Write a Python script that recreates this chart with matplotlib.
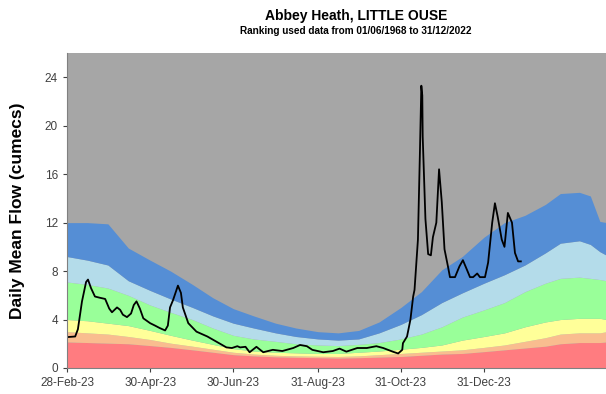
import numpy as np
import pandas as pd
import matplotlib
matplotlib.use("Agg")
import matplotlib.pyplot as plt
import matplotlib.dates as mdates

plt.rcParams['font.family'] = ['Liberation Sans', 'DejaVu Sans']

start = pd.Timestamp("2023-02-28")

# percentile bands: day offsets from start and upper limit of each band (cumecs)
band_days = [0, 15, 30, 45, 61, 76, 92, 107, 122, 137, 153, 168, 184, 199, 214,
             229, 245, 260, 275, 290, 306, 321, 336, 351, 362, 376, 384, 391, 396]
red_top = [2.15, 2.1, 2.05, 2.0, 1.85, 1.7, 1.5, 1.3, 1.1, 1.0, 0.92, 0.88, 0.85, 0.82, 0.85,
           0.9, 0.95, 1.05, 1.15, 1.2, 1.35, 1.5, 1.65, 1.8, 2.0, 2.1, 2.1, 2.1, 2.15]
orange_top = [3.0, 2.9, 2.8, 2.6, 2.35, 2.05, 1.8, 1.55, 1.3, 1.15, 1.05, 1.0, 0.97, 0.95, 1.0,
              1.1, 1.2, 1.3, 1.4, 1.5, 1.7, 1.9, 2.2, 2.5, 2.8, 2.9, 2.9, 2.9, 3.0]
yellow_top = [4.0, 3.9, 3.7, 3.5, 3.1, 2.7, 2.3, 1.95, 1.6, 1.4, 1.3, 1.25, 1.2, 1.2, 1.3,
              1.4, 1.55, 1.7, 1.9, 2.3, 2.6, 2.9, 3.4, 3.8, 4.0, 4.1, 4.1, 4.1, 4.0]
green_top = [7.1, 6.9, 6.6, 6.0, 5.2, 4.6, 4.0, 3.3, 2.7, 2.4, 2.2, 2.0, 1.9, 1.85, 1.95,
             2.1, 2.4, 2.8, 3.4, 4.2, 4.8, 5.4, 6.3, 7.0, 7.4, 7.5, 7.4, 7.3, 7.2]
lightblue_top = [9.2, 8.9, 8.5, 7.2, 6.4, 5.7, 5.0, 4.3, 3.7, 3.3, 2.9, 2.6, 2.4, 2.3, 2.4,
                 2.9, 3.6, 4.4, 5.4, 6.2, 7.0, 7.7, 8.5, 9.5, 10.3, 10.5, 10.2, 9.6, 9.3]
blue_top = [12.0, 12.0, 11.9, 9.9, 8.9, 8.0, 6.9, 5.8, 4.9, 4.3, 3.7, 3.3, 3.0, 2.9, 3.1,
            3.8, 5.0, 6.3, 8.1, 9.2, 10.8, 12.0, 12.6, 13.5, 14.4, 14.5, 14.2, 12.1, 12.0]

# observed daily mean flow
flow_days = [0, 6, 8, 11, 14, 15.4, 17.6, 20.5, 24, 28, 31, 33, 36.7, 39, 41, 44, 47, 49,
             51, 53.5, 56, 61, 64.6, 68, 72, 74, 75.6, 77.8, 81.4, 83.6, 85, 89, 95, 103,
             110, 117, 121, 125, 127, 131, 134, 139, 144, 151, 158, 166, 171, 176, 180,
             188, 195, 200, 205, 213, 220, 227, 232, 239, 243, 246, 246.5, 249.5, 252,
             254, 255, 257.5, 259, 260, 260.7, 261, 263, 265, 267, 268.5, 271, 273, 275,
             277, 279.5, 281, 284.7, 288, 290.5, 293.5, 295.7, 298, 301, 303, 306.7, 309,
             312, 314, 316, 319, 321, 323.5, 326.5, 328.7, 331, 333]
flow_vals = [2.55, 2.6, 3.2, 5.5, 7.1, 7.3, 6.6, 5.9, 5.8, 5.7, 4.9, 4.6, 5.0, 4.8, 4.4,
             4.2, 4.5, 5.2, 5.5, 4.9, 4.1, 3.7, 3.5, 3.3, 3.1, 3.5, 5.0, 5.6, 6.8, 6.2, 5.0,
             3.7, 3.0, 2.6, 2.15, 1.7, 1.65, 1.8, 1.7, 1.75, 1.3, 1.75, 1.3, 1.5, 1.4, 1.65,
             1.9, 1.8, 1.5, 1.3, 1.4, 1.6, 1.35, 1.65, 1.65, 1.8, 1.65, 1.35, 1.2, 1.5,
             2.05, 2.6, 4.0, 5.9, 6.45, 10.6, 18.0, 23.3, 22.5, 19.1, 12.3, 9.4, 9.3, 10.8,
             12.0, 16.4, 13.7, 9.8, 8.4, 7.5, 7.5, 8.4, 8.9, 8.1, 7.5, 7.5, 7.8, 7.5, 7.5,
             8.7, 12.0, 13.6, 12.5, 10.6, 10.0, 12.8, 12.0, 9.5, 8.8, 8.8]

tick_dates = ["2023-02-28", "2023-04-30", "2023-06-30", "2023-08-31", "2023-10-31", "2023-12-31"]
yticks = [0, 4, 8, 12, 16, 20, 24]

band_x = start + pd.to_timedelta(band_days, unit="D")
flow_x = start + pd.to_timedelta(flow_days, unit="D")

fig = plt.figure(figsize=(6.06, 3.94), dpi=100)
ax = fig.add_axes([67 / 606, 26 / 394, 539 / 606, 315 / 394])
ax.set_facecolor('#a6a6a6')

bands = [red_top, orange_top, yellow_top, green_top, lightblue_top, blue_top]
colours = ['#ff7c80', '#f9bd8f', '#ffff99', '#99ff99', '#b4dcea', '#558ed5']
lower = np.zeros(len(band_days))
for top, col in zip(bands, colours):
    ax.fill_between(band_x, lower, top, color=col, linewidth=0)
    lower = np.array(top)

ax.plot(flow_x, flow_vals, color='black', lw=1.3, solid_joinstyle='round')

ax.set_xlim(start, start + pd.Timedelta(days=395.5))
ax.set_ylim(0, 26)
ax.set_yticks(yticks)
ax.set_xticks(pd.to_datetime(tick_dates))
ax.xaxis.set_major_formatter(mdates.DateFormatter('%d-%b-%y'))
ax.tick_params(axis='both', labelsize=8.5, colors='#404040', length=3, width=0.8)
for side in ['top', 'right']:
    ax.spines[side].set_visible(False)
for side in ['left', 'bottom']:
    ax.spines[side].set_color('#808080')

ax.set_ylabel('Daily Mean Flow (cumecs)', fontsize=12.5, fontweight='bold', labelpad=14)

fig.text(356 / 606, 1 - 16 / 394, 'Abbey Heath, LITTLE OUSE', ha='center', va='center',
         fontsize=10, fontweight='bold')
fig.text(356 / 606, 1 - 31 / 394, 'Ranking used data from 01/06/1968 to 31/12/2022',
         ha='center', va='center', fontsize=7.2, fontweight='bold')

fig.savefig('out.png', dpi=100)
